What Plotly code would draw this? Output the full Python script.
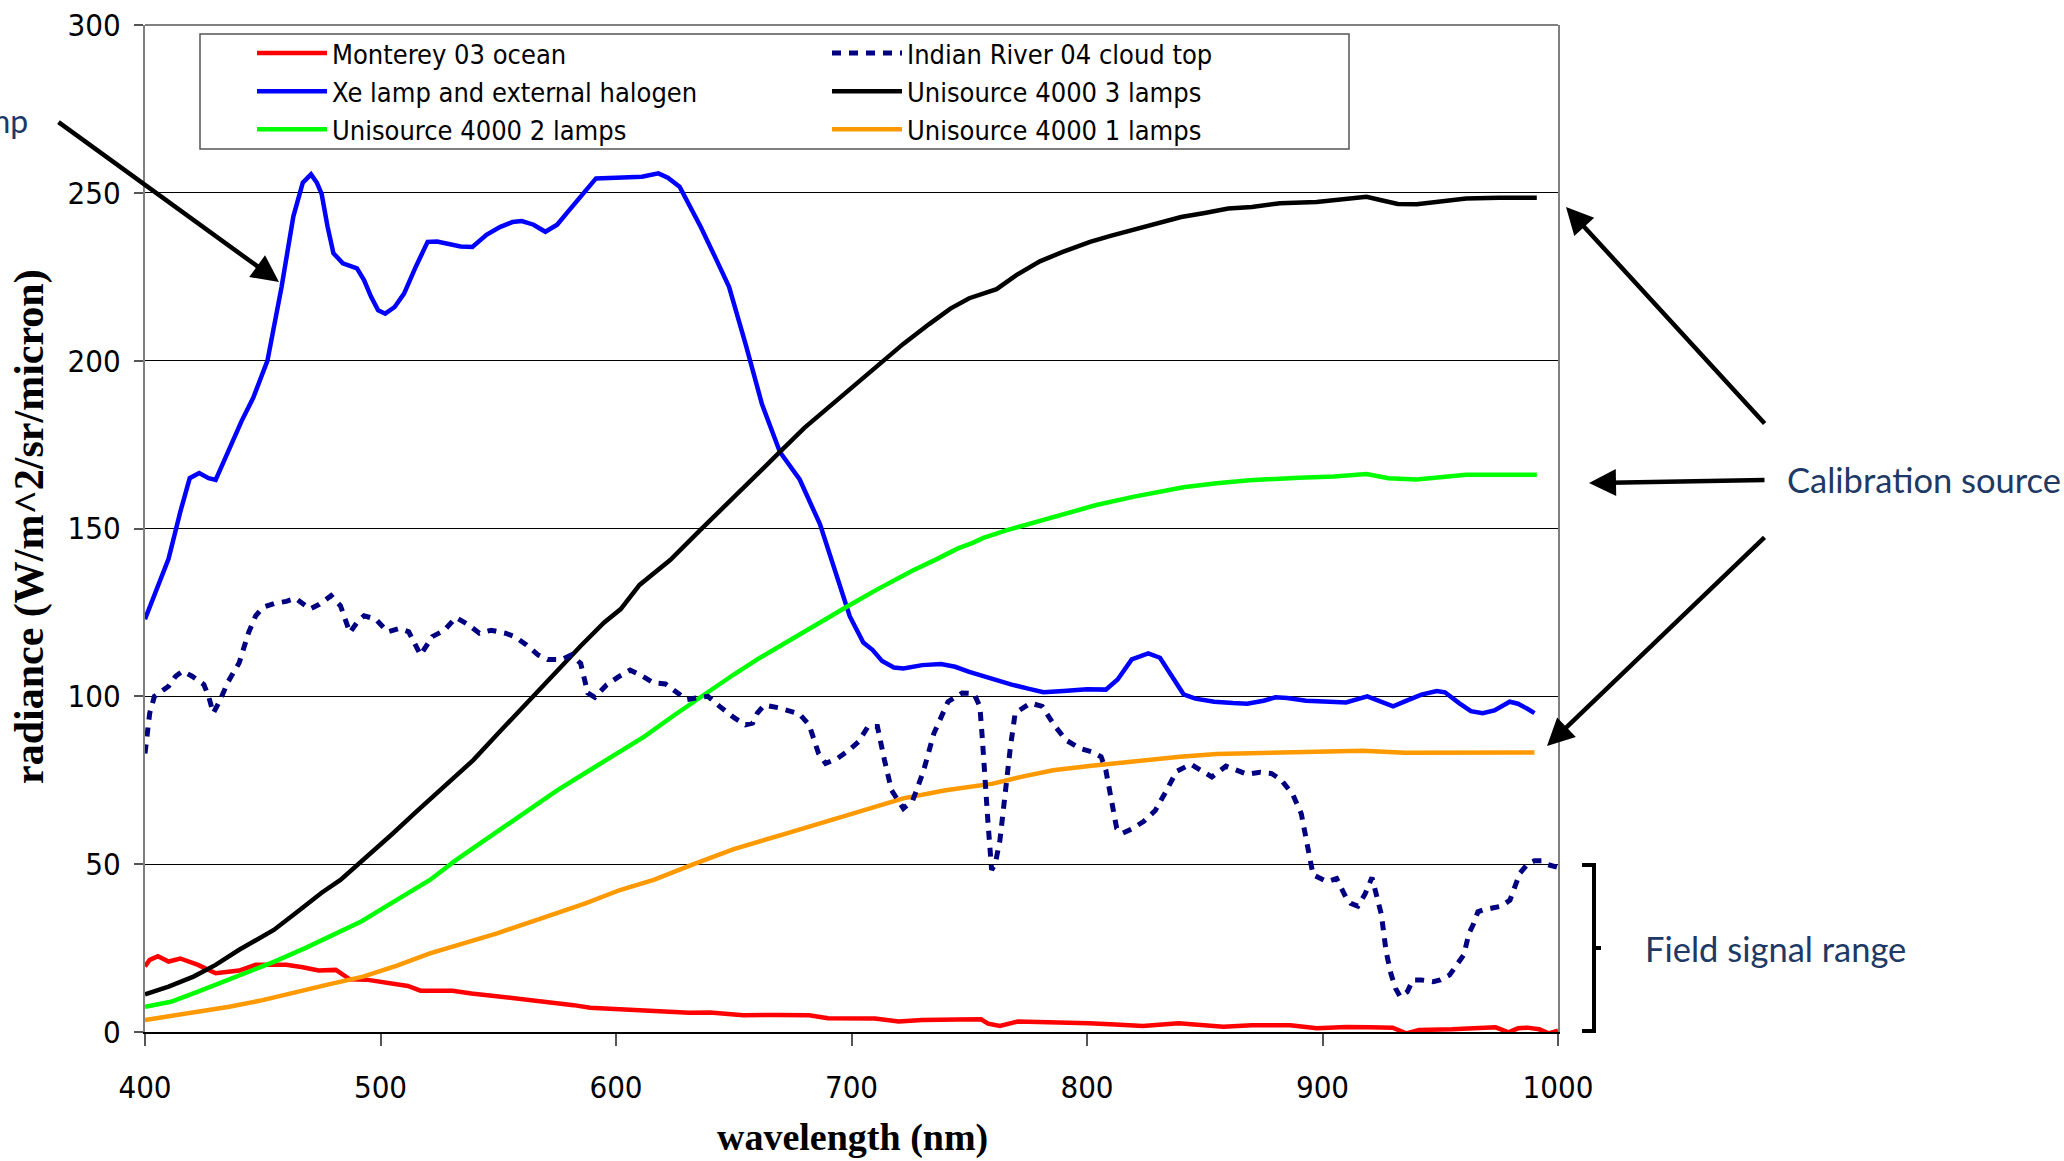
import plotly.graph_objects as go

# ---------------- data ----------------
red_x = [400, 402, 405.5, 410, 415, 422.5, 430, 435, 440, 447, 460, 467, 473.7, 481, 487, 494, 500, 506,
         511.6, 517, 530.6, 538.6, 548, 559, 566, 574, 582, 589, 598, 605, 612, 620, 631, 640, 648, 654,
         668, 682, 690, 700, 710, 720, 730, 745, 755, 758, 763, 770.6, 785, 800.8, 812, 823.7, 838.9, 848,
         857.9, 870, 886.3, 897.6, 910, 920, 929.8, 935.5, 941, 955, 965, 973.5, 979, 983, 987, 992, 996, 1000]
red_y = [19.5, 21.5, 22.6, 21, 21.9, 20, 17.5, 17.8, 18.3, 20, 20, 19.3, 18.3, 18.5, 15.7, 15.6, 15, 14.2,
         13.7, 12.3, 12.3, 11.5, 10.8, 10, 9.2, 8.7, 8.0, 7.2, 6.9, 6.8, 6.5, 6.2, 5.7, 5.8, 5.3, 5,
         5.1, 5, 4.1, 4.0, 4.0, 3.1, 3.6, 3.7, 3.8, 2.5, 1.8, 3.1, 3.0, 2.6, 2.2, 1.8, 2.6, 2.0,
         1.6, 2.0, 2.0, 1.1, 1.5, 1.4, 1.3, -0.4, 0.6, 0.8, 1.0, 1.4, -0.1, 1.1, 1.3, 0.8, -0.4, 0.4]

blue_x = [400, 405, 410, 415, 419, 423, 427, 430, 436, 441, 446, 452, 458, 463, 467, 470.5, 473, 475, 477.5,
          480, 484, 490, 493, 496, 499, 502, 506, 510, 515, 520, 524, 528, 534, 539, 545, 550.7, 556, 560,
          565, 570, 575, 579, 585, 591.5, 600, 611, 618, 622, 627, 631, 636, 642, 648, 655, 662, 669.6, 678,
          686.6, 693.7, 699.3, 705, 709, 713, 718, 722, 730, 738, 744, 750, 760, 768, 775, 781.5, 790, 800,
          808, 813, 819, 826, 831, 836, 841, 846, 854, 862, 868, 875, 880, 885, 893, 903, 910, 919, 925, 930,
          935, 942, 948.5, 952, 958, 963, 968, 973, 979.5, 983, 987, 990]
blue_y = [123, 132, 141, 155, 165, 166.5, 165, 164.5, 174, 182, 189, 200, 222, 243, 253, 255.5, 253, 249.7, 240,
          232, 229, 227.5, 224, 219, 215, 214, 216, 220, 228, 235.4, 235.5, 234.9, 234, 233.9, 237.5, 239.8, 241.3, 241.6,
          240.5, 238.4, 240.5, 243.9, 249, 254.3, 254.5, 254.8, 255.8, 254.5, 251.8, 246.5, 239.8, 231, 222, 205, 187, 172.8, 164.6,
          151.3, 135.9, 123.8, 116, 113.8, 110.5, 108.6, 108.3, 109.3, 109.6, 108.8, 107.3, 105, 103.5, 102.3, 101.2, 101.6, 102.1,
          102, 105, 111, 112.8, 111.5, 106, 100.6, 99.3, 98.4, 98, 97.8, 98.7, 99.7, 99.5, 98.7, 98.4, 98.2, 100, 98.5, 97,
          98.5, 100.5, 101.6, 101.2, 98, 95.6, 95, 95.8, 98.4, 97.8, 96.3, 95]

green_x = [400, 411, 422.5, 435, 445, 454.7, 468, 481.3, 492, 502, 511, 521, 532, 545, 560, 575, 590, 601.7, 612,
           625, 637, 650, 660, 669.6, 680, 690, 698, 710, 726, 736, 745, 751.7, 756, 766, 776, 790, 804, 820,
           840.9, 855, 869, 890, 905, 918.7, 928, 940, 950, 961, 975, 991]
green_y = [7.5, 9, 12, 15.5, 18.2, 20.9, 25, 29.4, 33, 37.3, 41, 45.3, 51.2, 57.5, 64.5, 72, 78.5, 83.5, 88,
           94.5, 100.4, 106.5, 111, 115, 119.5, 123.5, 126.7, 131.5, 137.5, 140.8, 144, 145.8, 147.2, 149.5, 151.5, 154.5, 157, 159.5,
           162.3, 163.5, 164.4, 165.1, 165.5, 166.2, 165, 164.6, 165.2, 166, 166, 166]

black_x = [400, 410, 420.6, 430, 440, 454.7, 465, 475, 483, 492.7, 505, 515, 525, 539.4, 550, 560, 566.3, 575, 585,
           595, 602, 610, 623, 635, 645, 655, 662, 669.6, 680, 690.9, 700, 712, 722, 733, 742, 750, 756, 761.6,
           770, 780, 790, 801.3, 810, 819.5, 830, 840, 850, 860, 870, 882, 897.5, 910, 918.7, 925, 932, 940,
           950, 961, 975, 991]
black_y = [11.2, 13.5, 16.5, 20, 24.5, 30.4, 36, 41.5, 45.3, 51.2, 59, 65.5, 72, 81, 89, 96.5, 100.9, 107.5, 115,
           122, 126, 133.2, 140.6, 149, 156, 163, 167.5, 172.8, 180, 186.6, 192, 199.3, 205, 210.9, 215.5, 218.6, 220, 221.3,
           225.5, 229.6, 232.5, 235.4, 237.2, 239, 241, 242.8, 244, 245.3, 245.8, 246.9, 247.3, 248, 248.8, 247.8, 246.7, 246.6,
           247.3, 248.3, 248.5, 248.5]

orange_x = [400, 413, 425, 435.8, 450, 464.3, 478, 492.6, 507, 521, 535, 549.5, 568, 587, 601.7, 616, 633, 650,
            672.5, 697, 722, 740, 760, 772, 785.6, 800, 814, 826, 839.5, 855, 875, 895, 917, 935, 955, 975, 990]
orange_y = [3.6, 5, 6.3, 7.5, 9.5, 12, 14.2, 16.5, 19.8, 23.4, 26.4, 29.4, 33.8, 38.3, 42.3, 45.3, 50, 54.5,
            59.2, 64.5, 69.6, 72, 74, 76, 78, 79.2, 80.2, 81.2, 82, 82.8, 83.2, 83.6, 83.8, 83.2, 83.3, 83.5, 83.3]

navy_x = [400, 402, 404, 407, 410, 413, 416, 420, 425, 427, 429, 432, 435, 440, 444, 447, 450, 455, 460, 464, 467,
          470, 474, 479, 483, 487, 490, 493, 498, 503, 508, 512, 517, 522, 527, 532, 537, 542, 547, 553, 557, 562,
          567, 571, 577, 581, 585, 588, 591, 596, 601, 606, 610, 616, 621, 625, 630, 634, 639, 644, 650, 655, 658,
          660, 663, 669, 678, 682, 686, 689, 694, 699, 703, 707, 711, 714, 717, 722, 726, 730.5, 735, 741, 747,
          752, 754.5, 755.5, 757, 758, 759.5, 761, 763, 764.5, 766, 767.5, 769.5, 776, 781, 786, 791, 797, 802,
          806, 808, 810, 812.6, 815, 819, 824, 829, 833, 838, 844, 848.5, 853, 859, 863.5, 868, 873.5, 878.4,
          882.6, 887.5, 891, 893.3, 896, 902, 906, 910, 912, 915, 918, 921, 923, 925, 927, 929, 931, 933, 936,
          938.4, 942, 947, 950, 954, 957.5, 960, 962.2, 964, 966, 968, 972.6, 976, 979.6, 983.8, 987, 990, 993,
          995, 1000]
navy_y = [83, 95, 100, 101.5, 103, 106, 107.5, 106, 103.5, 100, 95, 99, 104, 110, 119, 124, 126.5, 127.7, 128.3,
          129.2, 127.5, 126, 127.4, 130, 127, 119, 122, 124, 123, 119.2, 120.2, 119.2, 112.3, 117.8, 119.6, 123.5,
          121.5, 118.8, 119.7, 118.8, 117.8, 115.3, 112.3, 111, 111, 112.3, 109.8, 101, 99.7, 103.4, 105.8, 107.8,
          106.5, 104, 103.7, 101.6, 99, 99.5, 100, 97, 93.7, 91.5, 92, 95, 97.4, 96.6, 94.7, 91.5, 83, 80, 81.5,
          84, 86.5, 91, 91, 81, 72, 66.6, 69, 77.6, 89, 98.4, 101, 100.8, 97, 88, 75, 62, 48.3, 50, 57, 66.6, 76,
          85, 95, 98, 97, 91.5, 87, 84.5, 83.5, 82, 78, 69.7, 60.7, 59.2, 60.5, 62.7, 66, 71, 77.6, 79.8, 78, 76,
          79.2, 78, 76.8, 77.4, 77, 75, 70.6, 65, 56.2, 46.8, 44.8, 45.7, 40, 38.3, 37.5, 41, 46, 41, 35, 24, 17.5,
          13, 10.5, 12, 15.5, 15.5, 15, 15.5, 17, 20.5, 23, 29.4, 32, 35.8, 36.3, 37, 37.5, 39.3, 47.3, 50, 51, 51,
          50, 49]

series_names = ["Monterey 03 ocean", "Indian River 04 cloud top", "Xe lamp and external halogen",
                "Unisource 4000 3 lamps", "Unisource 4000 2 lamps", "Unisource 4000 1 lamps"]

x_ticks = [400, 500, 600, 700, 800, 900, 1000]
y_ticks = [0, 50, 100, 150, 200, 250, 300]

# ---------------- layout geometry ----------------
W, H = 2064, 1161
L, R, T, B = 145, 506, 25, 129
PW, PH = W - L - R, H - T - B


def px(x):
    return (x - L) / PW


def py(y):
    return (H - B - y) / PH


SANS = "Liberation Sans Narrow, DejaVu Sans Condensed, Liberation Sans, Arial, sans-serif"
SERIF = "Liberation Serif, Times New Roman, serif"
CAL = "Lato, Noto Sans, sans-serif"
NOTE_COLOR = "#203864"

fig = go.Figure()
lw = 4.5
fig.add_trace(go.Scatter(x=red_x, y=red_y, mode="lines", name=series_names[0],
                         line=dict(color="#ff0000", width=lw), legendrank=1))
fig.add_trace(go.Scatter(x=blue_x, y=blue_y, mode="lines", name=series_names[2],
                         line=dict(color="#0000ff", width=lw), legendrank=3))
fig.add_trace(go.Scatter(x=green_x, y=green_y, mode="lines", name=series_names[4],
                         line=dict(color="#00ff00", width=lw), legendrank=5))
fig.add_trace(go.Scatter(x=black_x, y=black_y, mode="lines", name=series_names[3],
                         line=dict(color="#000000", width=lw), legendrank=4))
fig.add_trace(go.Scatter(x=orange_x, y=orange_y, mode="lines", name=series_names[5],
                         line=dict(color="#ff9900", width=lw), legendrank=6))
fig.add_trace(go.Scatter(x=navy_x, y=navy_y, mode="lines", name=series_names[1],
                         line=dict(color="#000080", width=5, dash="9px,8px"), legendrank=2))

fig.update_layout(
    width=W, height=H,
    margin=dict(l=L, r=R, t=T, b=B, autoexpand=False),
    paper_bgcolor="white", plot_bgcolor="white",
    showlegend=True,
    legend=dict(
        x=px(252), y=py(29), xanchor="left", yanchor="top",
        orientation="h", entrywidth=490, entrywidthmode="pixels",
        traceorder="normal", itemwidth=70,
        font=dict(family=SANS, size=27, color="black"),
        bgcolor="rgba(0,0,0,0)", borderwidth=0,
        tracegroupgap=0,
    ),
    xaxis=dict(
        range=[400, 1000], tickvals=x_ticks, ticktext=[str(v) for v in x_ticks],
        showgrid=False, zeroline=False,
        showline=True, linecolor="#000000", linewidth=1.5,
        ticks="outside", ticklen=12, tickcolor="#555555", tickwidth=1.5,
        tickfont=dict(family=SANS, size=31, color="black"),
        ticklabelstandoff=15,
    ),
    yaxis=dict(
        range=[0, 300], tickvals=y_ticks, ticktext=[str(v) for v in y_ticks],
        showgrid=True, gridcolor="#000000", gridwidth=1,
        zeroline=False,
        showline=True, linecolor="#808080", linewidth=2, mirror=True,
        ticks="outside", ticklen=9, tickcolor="#555555", tickwidth=1.5,
        tickfont=dict(family=SANS, size=31, color="black"),
        ticklabelstandoff=7,
    ),
)

# top border of plot area (gray)
fig.add_shape(type="line", xref="paper", yref="paper", x0=0, x1=1, y0=1, y1=1,
              line=dict(color="#808080", width=2))

# legend frame
fig.add_shape(type="rect", xref="paper", yref="paper", x0=px(200), x1=px(1349), y0=py(34), y1=py(149),
              line=dict(color="#555555", width=1.5), fillcolor="white", layer="below")

# axis titles
fig.add_annotation(text="<b>radiance (W/m^2/sr/micron)</b>", xref="paper", yref="paper",
                   x=px(29), y=py(527), textangle=-90, showarrow=False,
                   font=dict(family=SERIF, size=42, color="black"), xanchor="center", yanchor="middle")
fig.add_annotation(text="<b>wavelength (nm)</b>", xref="paper", yref="paper",
                   x=px(852), y=py(1137), showarrow=False,
                   font=dict(family=SERIF, size=38, color="black"), xanchor="center", yanchor="middle")

# callout texts
fig.add_annotation(text="Calibration source", xref="paper", yref="paper", x=px(1785), y=py(479),
                   xanchor="left", yanchor="middle", showarrow=False,
                   font=dict(family=CAL, size=34.5, color=NOTE_COLOR))
fig.add_annotation(text="Field signal range", xref="paper", yref="paper", x=px(1643), y=py(948),
                   xanchor="left", yanchor="middle", showarrow=False,
                   font=dict(family=CAL, size=34.5, color=NOTE_COLOR))
fig.add_annotation(text="Xe lamp", xref="paper", yref="paper", x=px(30), y=py(121),
                   xanchor="right", yanchor="middle", showarrow=False,
                   font=dict(family=CAL, size=32, color=NOTE_COLOR))

# arrows (head, tail) in page pixels
arrows = [((279, 282), (57, 121)),
          ((1566, 207), (1766, 425)),
          ((1589, 483), (1766, 480)),
          ((1547, 746), (1766, 536))]
for (hx, hy), (tx, ty) in arrows:
    fig.add_annotation(xref="paper", yref="paper", x=px(hx), y=py(hy), ax=tx - hx, ay=ty - hy,
                       axref="pixel", ayref="pixel", text="", showarrow=True,
                       arrowhead=2, arrowsize=1.2, arrowwidth=4.5, arrowcolor="black", standoff=0)

# bracket for field signal range
bx0, bx1, bx2 = px(1582), px(1594), px(1601)
by0, by1, bym = py(865), py(1031), py(948)
fig.add_shape(type="path", xref="paper", yref="paper",
              path=f"M {bx0} {by0} L {bx1} {by0} L {bx1} {by1} L {bx0} {by1}",
              line=dict(color="black", width=4))
fig.add_shape(type="line", xref="paper", yref="paper", x0=bx1, x1=bx2, y0=bym, y1=bym,
              line=dict(color="black", width=4))

fig.write_html("out.html")
